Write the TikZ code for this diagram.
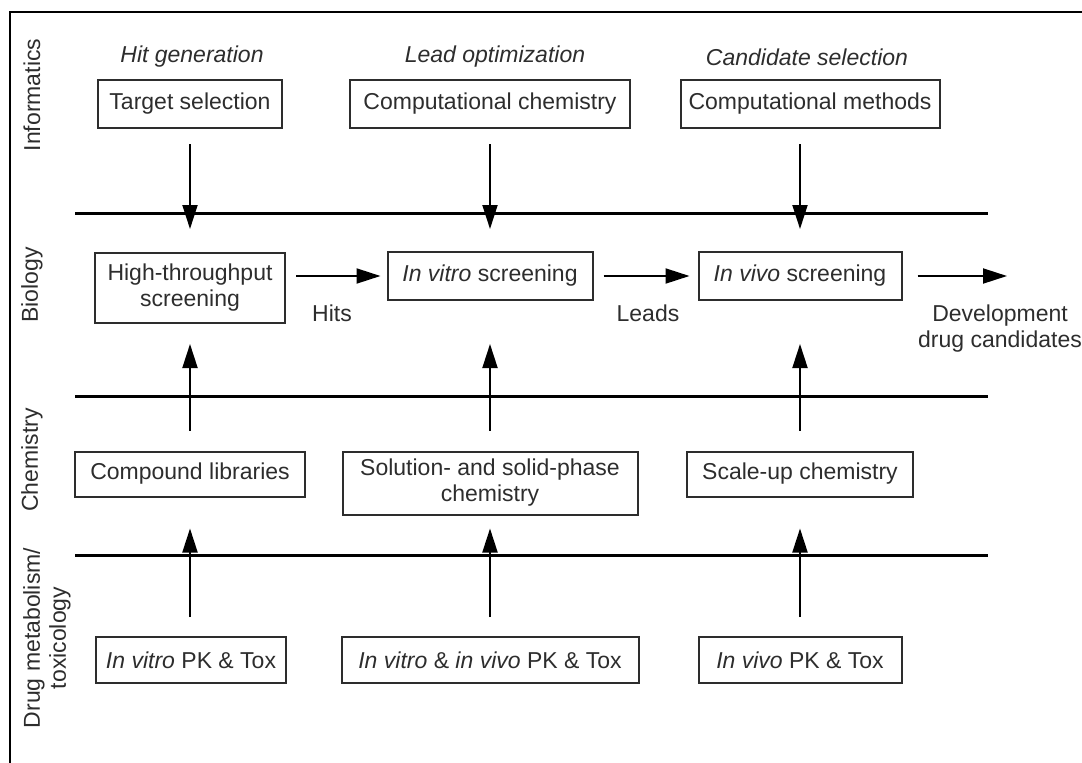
\documentclass[tikz,border=0pt]{standalone}
\usepackage{fontspec}
\setmainfont{Liberation Sans}
\usepackage{tikz}
\usetikzlibrary{arrows.meta,positioning,calc}
\definecolor{inkgrey}{RGB}{45,45,45}

\begin{document}
\begin{tikzpicture}[
    x=1pt, y=-1pt,
    every node/.style={font=\fontsize{23}{26}\selectfont, text=inkgrey},
    stage/.style={draw=inkgrey, line width=2pt, align=center, inner sep=3pt, minimum height=48pt},
    phase/.style={font=\fontsize{23}{26}\selectfont\itshape},
    lane/.style={rotate=90, align=center},
    band/.style={line width=3pt, draw=black},
    link/.style={-{Triangle[length=24pt,width=15pt]}, line width=2pt, draw=black},
    frame/.style={line width=2pt, draw=black}
]
\useasboundingbox (0,0) rectangle (1082,763);

% frame
\draw[frame] (1082,12) -- (10,12) -- (10,763);

% lanes
\node[lane] (inf) at (32,95) {Informatics};
\node[lane] (bio) at (32,285) {Biology};
\node[lane] (chem) at (32,460) {Chemistry};
\node[lane] (dmpk) at (47,638) {Drug metabolism/\\toxicology};

% phases
\node[phase] (hitgen) at (192,57) {Hit generation};
\node[phase] (leadopt) at (495,57) {Lead optimization};
\node[phase] (candsel) at (807,57) {Candidate selection};

% bands
\draw[band] (75,213) -- (988,213);
\draw[band] (75,396) -- (988,396);
\draw[band] (75,555) -- (988,555);

% informatics
\node[stage, minimum width=184pt] (ts) at (190,104) {Target selection};
\node[stage, minimum width=280pt] (cc) at (490,104) {Computational chemistry};
\node[stage, minimum width=259pt] (cm) at (810,104) {Computational methods};

% biology
\node[stage, minimum width=190pt, minimum height=70pt] (hts) at (190,288) {High-throughput\\screening};
\node[stage, minimum width=205pt] (ivt) at (490,276) {\textit{In vitro} screening};
\node[stage, minimum width=203pt] (ivs) at (800,276) {\textit{In vivo} screening};

% chemistry
\node[stage, minimum width=230pt, minimum height=45pt] (cl) at (190,474) {Compound libraries};
\node[stage, minimum width=295pt, minimum height=63pt] (ssp) at (490,483) {Solution- and solid-phase\\chemistry};
\node[stage, minimum width=226pt, minimum height=45pt] (su) at (800,474) {Scale-up chemistry};

% drug metabolism / toxicology
\node[stage, minimum width=190pt, minimum height=46pt] (pkt) at (191,660) {\textit{In vitro} PK \& Tox};
\node[stage, minimum width=297pt, minimum height=46pt] (pkb) at (490,660) {\textit{In vitro} \& \textit{in vivo} PK \& Tox};
\node[stage, minimum width=203pt, minimum height=46pt] (pkv) at (800,660) {\textit{In vivo} PK \& Tox};

% flow labels
\node (hits) at (332,313) {Hits};
\node (leads) at (648,313) {Leads};
\node[align=center] (dc) at (1000,329) {Development\\drug candidates};
\coordinate (dcend) at (1007,276);

% down into biology
\draw[link, shorten <=15pt, shorten >=23pt] (ts) -- (hts);
\draw[link, shorten <=15pt, shorten >=22pt] (cc.south -| ivt) -- (ivt);
\draw[link, shorten <=15pt, shorten >=22pt] (cm.south -| ivs) -- (ivs);

% up into biology
\draw[link, shorten <=20pt, shorten >=20pt] (cl) -- (hts);
\draw[link, shorten <=20pt, shorten >=43pt] (ssp) -- (ivt);
\draw[link, shorten <=20pt, shorten >=43pt] (su) -- (ivs);

% up into chemistry
\draw[link, shorten <=19pt, shorten >=31pt] (pkt.north -| cl) -- (cl);
\draw[link, shorten <=19pt, shorten >=13pt] (pkb) -- (ssp);
\draw[link, shorten <=19pt, shorten >=31pt] (pkv) -- (su);

% along biology
\draw[link, shorten <=10pt, shorten >=6pt] (hts.east |- ivt) -- (ivt);
\draw[link, shorten <=10pt, shorten >=8pt] (ivt) -- (ivs);
\draw[link, shorten <=15pt] (ivs.east) -- (dcend);

\end{tikzpicture}
\end{document}
